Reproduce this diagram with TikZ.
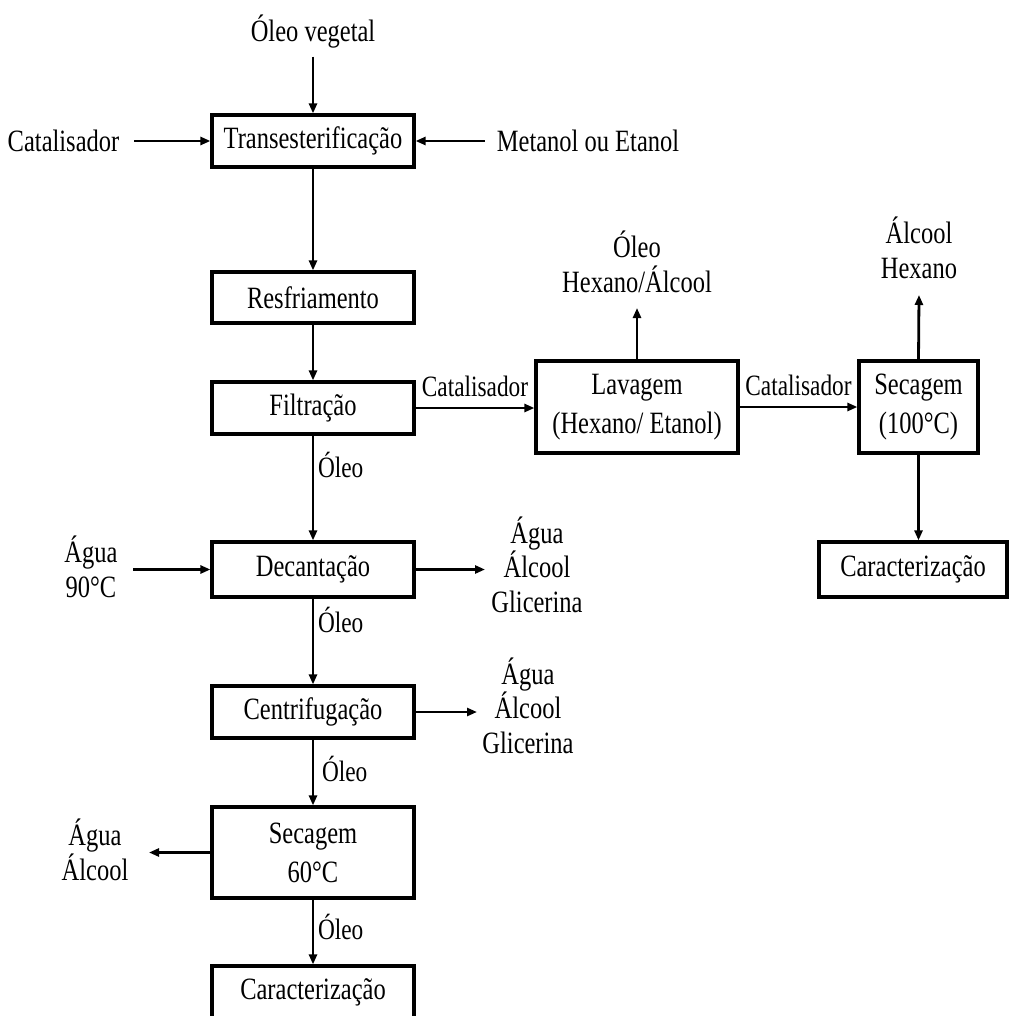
\documentclass[tikz,border=0pt]{standalone}
\usepackage{fontspec}
\setmainfont{Liberation Serif}[FakeStretch=0.79]
\usetikzlibrary{arrows.meta}
\begin{document}
\begin{tikzpicture}[x=1pt,y=-1pt,
  txt/.style={inner sep=0pt, outer sep=0pt, align=center, font=\fontsize{31}{34.5}\selectfont},
  small/.style={inner sep=0pt, outer sep=0pt, align=center, font=\fontsize{29.5}{34}\selectfont},
  stage/.style={draw, line width=3.2pt, inner sep=0pt, align=center,
    font=\fontsize{31}{39}\selectfont},
  flow/.style={line width=2.8pt, -{Triangle[length=10pt,width=8pt]}}]

\useasboundingbox (0,0) rectangle (1008,1016);

% process stages, main column
\node[stage, minimum width=202pt, minimum height=52pt] (trans) at (313,141) {Transesterificação};
\node[stage, minimum width=202pt, minimum height=51pt] (resf) at (313,297.5) {Resfriamento};
\node[stage, minimum width=202pt, minimum height=52pt] (filt) at (313,408) {Filtração};
\node[stage, minimum width=202pt, minimum height=55pt] (dec) at (313,569.5) {Decantação};
\node[stage, minimum width=202pt, minimum height=52pt] (cent) at (313,712) {Centrifugação};
\node[stage, minimum width=202pt, minimum height=91pt] (sec60) at (313,852.5) {Secagem\\60°C};
\node[stage, minimum width=202pt, minimum height=52pt] (car1) at (313,992) {Caracterização};

% catalyst recovery branch
\node[stage, minimum width=202pt, minimum height=92pt] (lav) at (637,407) {Lavagem\\(Hexano/ Etanol)};
\node[stage, minimum width=119pt, minimum height=92pt] (sec100) at (918.5,407) {Secagem\\(100°C)};
\node[stage, minimum width=188pt, minimum height=55pt] (car2) at (913,569.5) {Caracterização};

% feeds and outlets (base anchor = baseline of the last line)
\node[txt, anchor=base] (oleoveg) at (313,42) {Óleo vegetal};
\node[txt, anchor=base] (catin) at (63.5,152) {Catalisador};
\node[txt, anchor=base] (met) at (588,152) {Metanol ou Etanol};
\node[txt, anchor=base] (aguain) at (91,597) {Água\\90°C};
\node[txt, anchor=base] (decres) at (537,612) {Água\\Álcool\\Glicerina};
\node[txt, anchor=base] (centres) at (528,753) {Água\\Álcool\\Glicerina};
\node[txt, anchor=base] (secres) at (95,880) {Água\\Álcool};
\node[txt, anchor=base] (lavres) at (637,292) {Óleo\\Hexano/Álcool};
\node[txt, anchor=base] (secvap) at (919,278) {Álcool\\Hexano};

\coordinate (lavtop) at (637,308);
\coordinate (sectop) at (919,295);
\coordinate (decout) at (485,569.5);
\coordinate (centout) at (477,712);
\coordinate (aguastart) at (133,569.5);
\coordinate (secout) at (149,852.5);

% connectors
\draw[flow, shorten <=8pt] (oleoveg.south) -- (trans.north);
\draw[flow, shorten <=15pt] (catin.east |- trans.west) -- (trans.west);
\draw[flow, shorten <=12pt] (met.west |- trans.east) -- (trans.east);
\draw[flow] (trans.south) -- (resf.north);
\draw[flow] (resf.south) -- (filt.north);
\draw[flow] (filt.east) -- node[small, midway, above=11pt] (lblcat1) {Catalisador} (filt.east -| lav.west);
\draw[flow] (lav.east) -- node[small, midway, above=11pt] (lblcat2) {Catalisador} (lav.east -| sec100.west);
\draw[flow] (lav.north) -- (lavtop);
\draw[flow] (sec100.north) -- (sectop);
\draw[flow] (sec100.south) -- (sec100.south |- car2.north);
\draw[flow] (filt.south) -- (dec.north);
\draw[flow] (aguastart) -- (dec.west);
\draw[flow] (dec.east) -- (decout);
\draw[flow] (dec.south) -- (cent.north);
\draw[flow] (cent.east) -- (centout);
\draw[flow] (cent.south) -- (sec60.north);
\draw[flow] (sec60.west) -- (secout);
\draw[flow] (sec60.south) -- (car1.north);

% stream labels along the main column
\node[small, anchor=base west] (lbloleo1) at (318,477) {Óleo};
\node[small, anchor=base west] (lbloleo2) at (318,632) {Óleo};
\node[small, anchor=base west] (lbloleo3) at (322,781) {Óleo};
\node[small, anchor=base west] (lbloleo4) at (318,939) {Óleo};
\end{tikzpicture}
\end{document}
